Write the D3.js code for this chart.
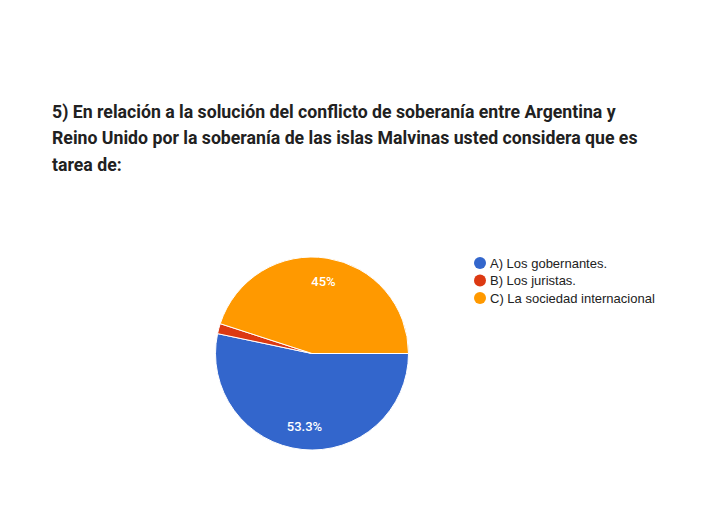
<!DOCTYPE html>
<html>
<head>
<meta charset="utf-8">
<script src="https://cdn.jsdelivr.net/npm/d3@7"></script>
<style>
  body { margin: 0; background: #fff; }
</style>
</head>
<body>
<div id="chart"></div>
<script>
var titleLines = [
	"5) En relación a la solución del conflicto de soberanía entre Argentina y",
	"Reino Unido por la soberanía de las islas Malvinas usted considera que es",
	"tarea de:"
];
var categories = ["A) Los gobernantes.", "B) Los juristas.", "C) La sociedad internacional"];
var values = [53.3, 1.7, 45];
var labels = ["53.3%", "", "45%"];
var colors = ["#3366cc", "#dc3912", "#ff9900"];

function init(){
	var w = 702;
	var h = 523;

	var svg = d3.select("#chart")
				.append("svg")
				.attr("width", w)
				.attr("height", h);

	//title
	svg.append("g")
		.selectAll("text")
		.data(titleLines)
		.enter()
		.append("text")
		.attr("x", 52)
		.attr("y", function(d, i){ return 117.5 + i * 26.5; })
		.style("font-family", "Roboto")
		.style("font-weight", 700)
		.style("font-size", "17.7px")
		.style("fill", "#212121")
		.text(function(d){ return d; });

	//pie
	var cx = 312, cy = 353.5, r = 96.5;
	var pie = d3.pie()
				.sort(null)
				.startAngle(Math.PI / 2)
				.endAngle(Math.PI / 2 + 2 * Math.PI);
	var arcs = pie(values);

	var arc = d3.arc().innerRadius(0).outerRadius(r);
	var labelArc = d3.arc().innerRadius(r * 0.76).outerRadius(r * 0.76);

	var g = svg.append("g").attr("transform", "translate(" + cx + "," + cy + ")");

	g.selectAll("path")
		.data(arcs)
		.enter()
		.append("path")
		.attr("d", arc)
		.style("fill", function(d, i){ return colors[i]; })
		.style("stroke", "#fff")
		.style("stroke-width", 1);

	g.selectAll("text")
		.data(arcs)
		.enter()
		.append("text")
		.attr("transform", function(d){ return "translate(" + labelArc.centroid(d) + ")"; })
		.attr("dy", "0.35em")
		.attr("text-anchor", "middle")
		.style("font-family", "Roboto")
		.style("font-weight", 500)
		.style("font-size", "13px")
		.style("fill", "#fff")
		.text(function(d, i){ return labels[i]; });

	//legend
	var legend = svg.append("g")
					.selectAll("g")
					.data(categories)
					.enter()
					.append("g")
					.attr("transform", function(d, i){ return "translate(480," + (263 + i * 17.5) + ")"; });

	legend.append("circle")
		.attr("r", 6)
		.style("fill", function(d, i){ return colors[i]; });

	legend.append("text")
		.attr("x", 10)
		.attr("dy", "0.35em")
		.style("font-family", "Liberation Sans, Arial, sans-serif")
		.style("font-size", "13px")
		.style("fill", "#222")
		.text(function(d){ return d; });
}

window.onload = init;
</script>
</body>
</html>
